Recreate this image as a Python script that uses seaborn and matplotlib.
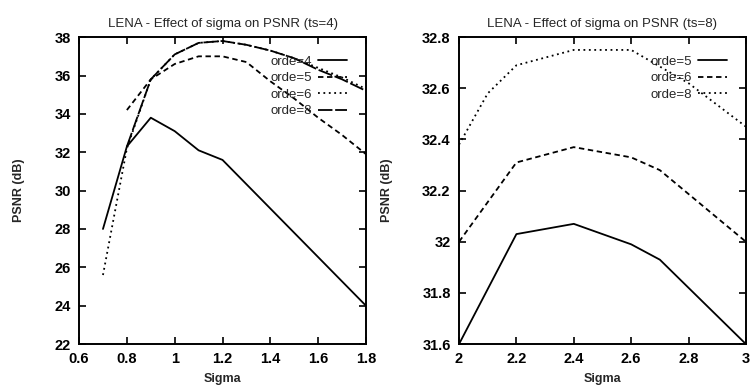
import numpy as np
import matplotlib
matplotlib.use("Agg")
import matplotlib.pyplot as plt
from matplotlib.ticker import FuncFormatter
import seaborn as sns

sns.set_style("ticks")
plt.rcParams['font.family'] = ['Liberation Sans', 'DejaVu Sans']

# ts=4 panel
sigma4_o4 = [0.7, 0.8, 0.9, 1.0, 1.1, 1.2, 1.8]
psnr4_o4 = [28.0, 32.3, 33.8, 33.1, 32.1, 31.6, 24.0]
sigma4_o5 = [0.8, 0.9, 1.0, 1.1, 1.2, 1.3, 1.4, 1.5, 1.6, 1.7, 1.8]
psnr4_o5 = [34.2, 35.8, 36.6, 37.0, 37.0, 36.7, 35.7, 34.8, 33.8, 32.9, 31.9]
sigma4_o6 = [0.7, 0.8, 0.9, 1.0, 1.1, 1.2, 1.3, 1.4, 1.5, 1.6, 1.7, 1.8]
psnr4_o6 = [25.6, 32.2, 35.8, 37.1, 37.7, 37.8, 37.6, 37.3, 36.9, 36.4, 35.9, 35.3]
sigma4_o8 = [0.8, 0.9, 1.0, 1.1, 1.2, 1.3, 1.4, 1.5, 1.6, 1.7, 1.8]
psnr4_o8 = [32.3, 35.8, 37.1, 37.7, 37.8, 37.6, 37.3, 36.9, 36.3, 35.8, 35.2]

# ts=8 panel
sigma8 = [2.0, 2.2, 2.4, 2.6, 2.7, 3.0]
psnr8_o5 = [31.6, 32.03, 32.07, 31.99, 31.93, 31.6]
psnr8_o6 = [32.0, 32.31, 32.37, 32.33, 32.28, 32.0]
sigma8_o8 = [2.0, 2.1, 2.2, 2.4, 2.6, 2.8, 3.0]
psnr8_o8 = [32.38, 32.58, 32.69, 32.75, 32.75, 32.62, 32.45]

fig = plt.figure(figsize=(7.53, 3.91), dpi=100)
ax1 = fig.add_axes([0.105, 0.12, 0.381, 0.785])
ax2 = fig.add_axes([0.6096, 0.12, 0.381, 0.785])

lw = 1.3
sns.lineplot(x=sigma4_o4, y=psnr4_o4, ax=ax1, color="black", lw=lw, linestyle="-", label="orde=4")
sns.lineplot(x=sigma4_o5, y=psnr4_o5, ax=ax1, color="black", lw=lw, linestyle=(0, (3, 2)), label="orde=5")
sns.lineplot(x=sigma4_o6, y=psnr4_o6, ax=ax1, color="black", lw=lw, linestyle=(0, (1, 2)), label="orde=6")
sns.lineplot(x=sigma4_o8, y=psnr4_o8, ax=ax1, color="black", lw=lw, linestyle=(0, (8, 1.5)), label="orde=8")

sns.lineplot(x=sigma8, y=psnr8_o5, ax=ax2, color="black", lw=lw, linestyle="-", label="orde=5")
sns.lineplot(x=sigma8, y=psnr8_o6, ax=ax2, color="black", lw=lw, linestyle=(0, (3, 2)), label="orde=6")
sns.lineplot(x=sigma8_o8, y=psnr8_o8, ax=ax2, color="black", lw=lw, linestyle=(0, (1, 2)), label="orde=8")

ax1.set_xlim(0.6, 1.8)
ax1.set_ylim(22, 38)
ax1.set_xticks(np.arange(0.6, 1.81, 0.2))
ax1.set_yticks(np.arange(22, 38.1, 2))
ax1.set_title("LENA - Effect of sigma on PSNR (ts=4)", fontsize=9.5, pad=7)

ax2.set_xlim(2, 3)
ax2.set_ylim(31.6, 32.8)
ax2.set_xticks(np.arange(2, 3.01, 0.2))
ax2.set_yticks(np.arange(31.6, 32.81, 0.2))
ax2.set_title("LENA - Effect of sigma on PSNR (ts=8)", fontsize=9.5, pad=7)

fmt = FuncFormatter(lambda v, p: "%g" % round(v, 2))
for ax in (ax1, ax2):
    ax.xaxis.set_major_formatter(fmt)
    ax.yaxis.set_major_formatter(fmt)
    ax.tick_params(direction="in", length=5, width=1.2, top=True, right=True,
                   labelsize=10.5, colors="black", pad=6)
    for lab in ax.get_xticklabels() + ax.get_yticklabels():
        lab.set_fontweight("bold")
    for s in ax.spines.values():
        s.set_linewidth(1.4)
        s.set_color("black")
    ax.set_xlabel("Sigma", fontsize=9, fontweight="bold", labelpad=5)
    ax.set_ylabel("PSNR (dB)", fontsize=9, fontweight="bold", labelpad=21)
    ax.legend(loc="upper right", frameon=False, markerfirst=False, fontsize=9.5,
              handlelength=2.2, handletextpad=0.5, labelspacing=0.32,
              borderaxespad=1.0)

fig.savefig("out.png", dpi=100)
